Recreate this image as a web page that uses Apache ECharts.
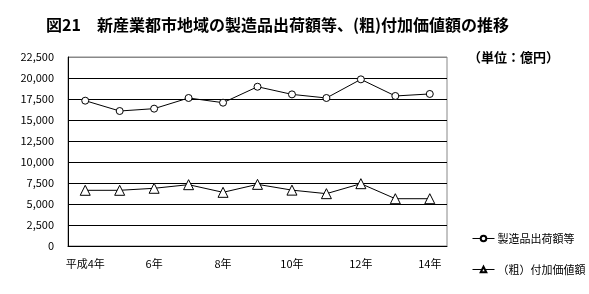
<html lang="ja">
<head>
    <meta charset="UTF-8">
    <title>図21</title>
</head>
<body style="margin:0">
    <div id="container" style="width:589px;height:294px"></div>
    <script src="https://cdn.jsdelivr.net/npm/echarts@6/dist/echarts.min.js"></script>
    <script>
        var years = ['平成4年', '5年', '6年', '7年', '8年', '9年', '10年', '11年', '12年', '13年', '14年'];
        var shipments = [17300, 16070, 16350, 17620, 17060, 18960, 18050, 17620, 19840, 17860, 18100];
        var valueAdded = [6630, 6630, 6870, 7300, 6390, 7340, 6650, 6230, 7420, 5630, 5630];
        var seriesNames = ['製造品出荷額等', '（粗）付加価値額'];

        var font = 'Noto Sans CJK JP';
        var chart = echarts.init(document.getElementById('container'));

        // top gridline is the plot border, grey like the right edge
        var gridColors = [];
        for (var i = 0; i < 9; i++) gridColors.push('#000');
        gridColors.push('#888');

        chart.setOption({
            backgroundColor: '#fff',
            animation: false,
            textStyle: { fontFamily: font, color: '#000' },
            title: [{
                text: '図21　新産業都市地域の製造品出荷額等、(粗)付加価値額の推移',
                left: 41, top: 12,
                textStyle: { fontSize: 16, fontWeight: 'bold', fontFamily: font, color: '#000' }
            }, {
                text: '（単位：億円）',
                left: 463, top: 46,
                textStyle: { fontSize: 13, fontWeight: 'bold', fontFamily: font, color: '#000' }
            }],
            legend: {
                orient: 'vertical',
                left: 467, top: 228,
                itemGap: 20,
                itemWidth: 22, itemHeight: 7,
                lineStyle: { width: 1 },
                textStyle: { fontSize: 11, fontFamily: font, color: '#000', padding: [0, 0, 0, -2] },
                data: seriesNames
            },
            grid: {
                left: 68, right: 142, top: 57, bottom: 48,
                show: true, borderColor: '#888', borderWidth: 1
            },
            xAxis: {
                type: 'category',
                data: years,
                boundaryGap: true,
                axisLine: { lineStyle: { color: '#000' } },
                axisTick: { inside: true, length: 4, lineStyle: { color: '#000' } },
                axisLabel: { interval: 1, fontSize: 11, color: '#000', margin: 12 }
            },
            yAxis: {
                type: 'value',
                min: 0, max: 22500, interval: 2500,
                axisLine: { show: true, lineStyle: { color: '#000' } },
                axisTick: { show: false },
                axisLabel: {
                    fontSize: 11, color: '#000', margin: 14,
                    formatter: function (v) { return v.toLocaleString('en-US'); }
                },
                splitLine: { lineStyle: { color: gridColors, width: 1 } }
            },
            series: [{
                name: seriesNames[0],
                type: 'line',
                data: shipments,
                symbol: 'circle',
                symbolSize: 7,
                lineStyle: { color: '#000', width: 1 },
                itemStyle: { color: '#fff', borderColor: '#000', borderWidth: 1 }
            }, {
                name: seriesNames[1],
                type: 'line',
                data: valueAdded,
                symbol: 'triangle',
                symbolSize: 10,
                lineStyle: { color: '#000', width: 1 },
                itemStyle: { color: '#fff', borderColor: '#000', borderWidth: 1 }
            }]
        });
    </script>
</body>
</html>
